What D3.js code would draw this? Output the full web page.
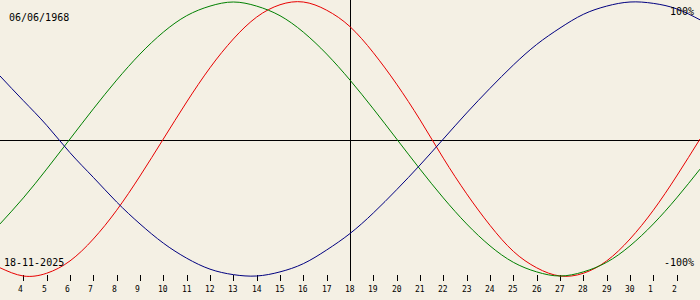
<!DOCTYPE html>
<html>
<head>
<meta charset="utf-8">
<script src="https://cdn.jsdelivr.net/npm/d3@7"></script>
<style>
  body { margin: 0; background: #f4f0e4; }
  svg { display: block; }
  text { font-family: "DejaVu Sans Mono", monospace; fill: #000; }
</style>
</head>
<body>
<div id="graph"></div>
<script>
// days shown, Nov 3 .. Dec 3 (selected day Nov 18 in the middle)
var days = [3, 4, 5, 6, 7, 8, 9, 10, 11, 12, 13, 14, 15, 16, 17, 18, 19, 20,
  21, 22, 23, 24, 25, 26, 27, 28, 29, 30, 1, 2, 3]

// values in %, one per day
var physical = [-94, -100, -98, -89, -73, -52, -27, 0, 27, 52, 73, 89, 98, 100, 94, 82,
  63, 40, 14, -14, -40, -63, -82, -94, -100, -98, -89, -73, -52, -27, 0]
var emotional = [-62, -43, -22, 0, 22, 43, 62, 78, 90, 97, 100, 97, 90, 78, 62, 43,
  22, 0, -22, -43, -62, -78, -90, -97, -100, -97, -90, -78, -62, -43, -22]
var intellectual = [46, 28, 10, -10, -28, -46, -62, -76, -87, -95, -99, -100, -97, -91, -81, -69,
  -54, -37, -19, 0, 19, 37, 54, 69, 81, 91, 97, 100, 99, 95, 87]

var birthLabel = '06/06/1968'
var dateLabel = '18-11-2025'
var topLabel = '100%'
var bottomLabel = '-100%'
var centerIndex = 15

var width = 700, height = 300

var svg = d3.select('#graph').append('svg')
  .attr('width', width)
  .attr('height', height)

var x = d3.scaleLinear().domain([0, days.length - 1]).range([0, width])
var y = d3.scaleLinear().domain([-100, 100]).range([276, 2])

// axes lines
svg.append('line')
  .attr('x1', 0).attr('x2', width)
  .attr('y1', 140.5).attr('y2', 140.5)
  .attr('stroke', '#000')
  .attr('shape-rendering', 'crispEdges')

svg.append('line')
  .attr('x1', Math.round(x(centerIndex)) + 0.5).attr('x2', Math.round(x(centerIndex)) + 0.5)
  .attr('y1', 0).attr('y2', 281)
  .attr('stroke', '#000')
  .attr('shape-rendering', 'crispEdges')

// day ticks + labels
var tickIdx = d3.range(1, days.length - 1)
var ticks = svg.append('g')
ticks.selectAll('line').data(tickIdx).enter().append('line')
  .attr('x1', i => Math.round(x(i)) + 0.5)
  .attr('x2', i => Math.round(x(i)) + 0.5)
  .attr('y1', 275).attr('y2', 281)
  .attr('stroke', '#000')
  .attr('shape-rendering', 'crispEdges')

ticks.selectAll('text').data(tickIdx).enter().append('text')
  .attr('x', i => Math.round(x(i)) - 5)
  .attr('y', 292)
  .attr('font-size', 8)
  .text(i => days[i])

// curves
var line = d3.line()
  .x((d, i) => x(i))
  .y(d => y(d))
  .curve(d3.curveNatural)

var series = [
  {values: physical, color: '#e80000'},
  {values: emotional, color: '#008000'},
  {values: intellectual, color: '#000080'}
]

svg.selectAll('path.curve').data(series).enter().append('path')
  .attr('class', 'curve')
  .attr('d', d => line(d.values))
  .attr('fill', 'none')
  .attr('stroke', d => d.color)
  .attr('stroke-width', 1)

// labels
svg.append('text').attr('x', 9).attr('y', 21).attr('font-size', 10).text(birthLabel)
svg.append('text').attr('x', 4).attr('y', 266).attr('font-size', 10).text(dateLabel)
svg.append('text').attr('x', 694).attr('y', 15).attr('font-size', 10)
  .attr('text-anchor', 'end').text(topLabel)
svg.append('text').attr('x', 694).attr('y', 266).attr('font-size', 10)
  .attr('text-anchor', 'end').text(bottomLabel)
</script>
</body>
</html>
